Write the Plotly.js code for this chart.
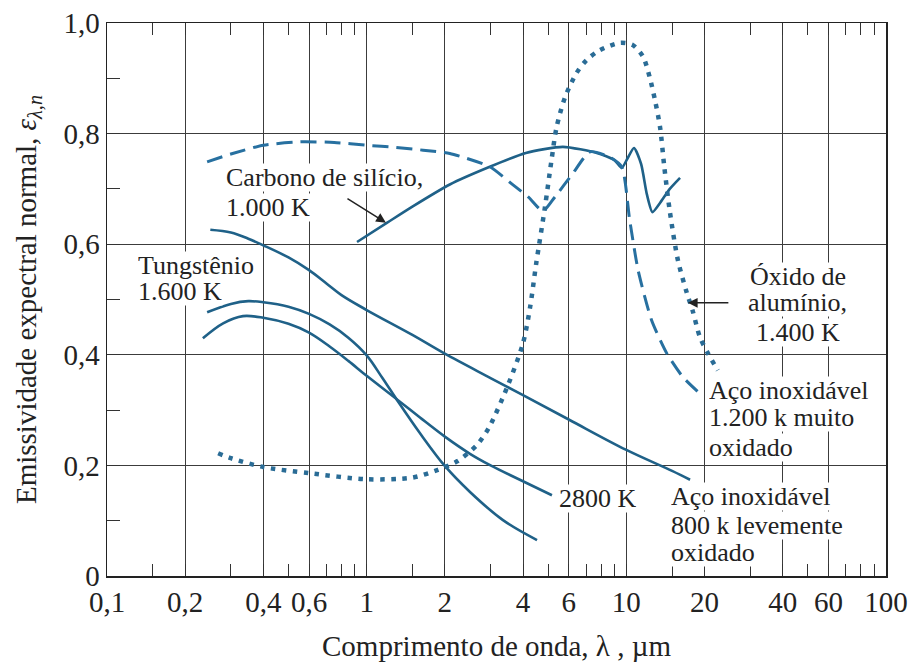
<!DOCTYPE html>
<html><head><meta charset="utf-8">
<script src="https://cdn.plot.ly/plotly-3.0.1.min.js"></script>
<style>html,body{margin:0;padding:0;background:#fff}</style>
</head><body><div id="chart" style="width:918px;height:668px"></div>
<script>
// ---- data ----
const steel800_x = [0.25,0.3,0.35,0.4,0.5,0.6,0.7,0.8,1.0,1.5,2,3,4,6,10,15,17.6];
const steel800_y = [0.626,0.621,0.61,0.598,0.576,0.553,0.529,0.508,0.481,0.436,0.402,0.358,0.327,0.283,0.228,0.19,0.174];

const tungA_x = [0.243,0.3,0.35,0.4,0.5,0.6,0.72,0.85,1.0,1.15,1.31,1.6,2.0,2.5,3.35,4.53];
const tungA_y = [0.477,0.492,0.497,0.495,0.487,0.474,0.455,0.431,0.399,0.358,0.318,0.259,0.199,0.152,0.101,0.065];

const tungB_x = [0.234,0.28,0.334,0.4,0.5,0.6,0.72,0.85,1.0,1.32,1.6,2.0,2.5,3.0,3.89,5.17];
const tungB_y = [0.43,0.457,0.47,0.467,0.456,0.44,0.415,0.389,0.362,0.318,0.287,0.252,0.221,0.2,0.174,0.146];

const sic_x = [0.918,1.2,1.5,2.09,2.98,4.1,5.7,7.7,9.0,9.6,10.1,10.7,11.4,12.0,12.6,13.5,14.7,16.1];
const sic_y = [0.604,0.639,0.668,0.708,0.74,0.765,0.776,0.765,0.752,0.738,0.755,0.774,0.745,0.69,0.658,0.675,0.70,0.72];

const steel1200_x = [0.243,0.3,0.4,0.553,0.75,1.0,1.3,1.65,2.09,2.98,3.6,4.2,4.77,5.3,6.2,7.24,8.6,9.6,10.3,11.1,12.5,14.3,16.5,19.5];
const steel1200_y = [0.749,0.763,0.779,0.785,0.784,0.779,0.775,0.77,0.764,0.74,0.71,0.685,0.66,0.685,0.727,0.767,0.758,0.74,0.644,0.553,0.463,0.403,0.36,0.327];

const alox_x = [0.268,0.3,0.4,0.6,1.0,1.5,1.88,2.24,2.66,2.97,3.5,4.0,4.26,4.5,4.86,5.15,5.39,5.81,6.44,7.03,7.91,9.45,10.6,11.6,12.3,12.9,13.5,14.0,14.7,15.8,17.1,18.0,19.2,20.6,22.5];
const alox_y = [0.222,0.213,0.197,0.186,0.175,0.178,0.192,0.208,0.237,0.27,0.345,0.421,0.486,0.566,0.667,0.752,0.812,0.866,0.91,0.933,0.951,0.964,0.96,0.939,0.902,0.86,0.81,0.74,0.66,0.571,0.512,0.48,0.432,0.403,0.372];

const xTickVals = [0.1,0.2,0.4,0.6,1,2,4,6,10,20,40,60,100];
const xTickText = ['0,1','0,2','0,4','0,6','1','2','4','6','10','20','40','60','100'];
const xMinorVals = [0.15,0.3,0.5,0.7,0.8,0.9,1.5,3,5,7,8,9,15,30,50,70,80,90];
const yTickVals = [0,0.2,0.4,0.6,0.8,1.0];
const yTickText = ['0','0,2','0,4','0,6','0,8','1,0'];
const yMinorVals = [0.1,0.3,0.5,0.7,0.9];

// ---- styles ----
const solidC = '#1f6188', dashC = '#2770a0', dotC = '#2a6c96';
const FONT = '"Liberation Serif", "Times New Roman", "DejaVu Serif", serif';

function tr(x, y, color, dash, width, smoothing) {
  return {x: x, y: y, type: 'scatter', mode: 'lines', hoverinfo: 'skip',
    line: {color: color, width: width, dash: dash, shape: 'spline', smoothing: smoothing}};
}

const data = [
  tr(steel800_x, steel800_y, solidC, 'solid', 2.6, 1),
  tr(tungA_x, tungA_y, solidC, 'solid', 2.6, 1),
  tr(tungB_x, tungB_y, solidC, 'solid', 2.6, 1),
  tr(sic_x, sic_y, solidC, 'solid', 2.6, 0.6),
  tr(steel1200_x, steel1200_y, dashC, '16px,8px', 3, 0.6),
  tr(alox_x, alox_y, dotC, '4.5px,6.5px', 4.5, 0.8)
];

const af = {family: FONT, size: 26, color: '#222'};
function lab(text, x, y, xanchor) {
  return {text: text, x: x, y: y, xref: 'x', yref: 'y', xanchor: xanchor, yanchor: 'middle',
    align: xanchor, valign: 'middle', height: 27, showarrow: false, font: af, bgcolor: 'white', borderpad: 0};
}
function arr(x, y, ax, ay) {
  return {text: '', x: x, y: y, xref: 'x', yref: 'y', showarrow: true, ax: ax, ay: ay,
    arrowhead: 2, arrowsize: 1.3, arrowwidth: 1.5, arrowcolor: '#222'};
}

const layout = {
  width: 918, height: 668,
  margin: {l: 107, r: 32, t: 23, b: 92},
  paper_bgcolor: 'white', plot_bgcolor: 'white',
  showlegend: false,
  font: {family: FONT, color: '#222'},
  xaxis: {
    type: 'log', range: [-1, 2],
    tickmode: 'array', tickvals: xTickVals, ticktext: xTickText, tickangle: 0,
    tickfont: {family: FONT, size: 29, color: '#222'},
    ticks: 'inside', ticklen: 12, tickwidth: 1, tickcolor: '#333',
    mirror: 'ticks', showline: true, linecolor: '#222', linewidth: 1.5,
    showgrid: true, gridcolor: '#3c3c3c', gridwidth: 1, zeroline: false,
    minor: {tickmode: 'array', tickvals: xMinorVals, ticks: 'inside', ticklen: 12, tickwidth: 1, tickcolor: '#333', showgrid: false},
    title: {text: 'Comprimento de onda, λ , µm', font: {family: FONT, size: 29, color: '#222'}, standoff: 18}
  },
  yaxis: {
    range: [0, 1],
    tickmode: 'array', tickvals: yTickVals, ticktext: yTickText,
    tickfont: {family: FONT, size: 29, color: '#222'},
    ticks: 'inside', ticklen: 13, tickwidth: 1, tickcolor: '#333',
    mirror: true, showline: true, linecolor: '#222', linewidth: 1.5,
    showgrid: true, gridcolor: '#3c3c3c', gridwidth: 1, zeroline: false,
    minor: {tickmode: 'array', tickvals: yMinorVals, ticks: 'inside', ticklen: 13, tickwidth: 1, tickcolor: '#333', showgrid: false},
    title: {text: 'Emissividade expectral normal, <i>ε</i><sub><i>λ,n</i></sub>', font: {family: FONT, size: 29, color: '#222'}, standoff: 18}
  },
  annotations: [
    lab('1.600 K', -0.8845, 0.514, 'left'),
    lab('Tungstênio', -0.8845, 0.562, 'left'),
    lab('1.000 K', -0.5456, 0.667, 'left'),
    lab('Carbono de silício,', -0.5456, 0.720, 'left'),
    lab('2800 K', 0.7366, 0.141, 'left'),
    lab('oxidado', 1.168, 0.042, 'left'),
    lab('800 k levemente', 1.168, 0.092, 'left'),
    lab('Aço inoxidável', 1.168, 0.143, 'left'),
    lab('oxidado', 1.314, 0.233, 'left'),
    lab('1.200 k muito', 1.314, 0.286, 'left'),
    lab('Aço inoxidável', 1.314, 0.336, 'left'),
    lab('1.400 K', 1.661, 0.441, 'center'),
    lab('alumínio,', 1.661, 0.494, 'center'),
    lab('Óxido de', 1.661, 0.541, 'center'),
    arr(0.0743, 0.639, -40, -25),
    arr(1.237, 0.494, 42, 0)
  ]
};

Plotly.newPlot('chart', data, layout, {displayModeBar: false, staticPlot: true});
</script></body></html>
